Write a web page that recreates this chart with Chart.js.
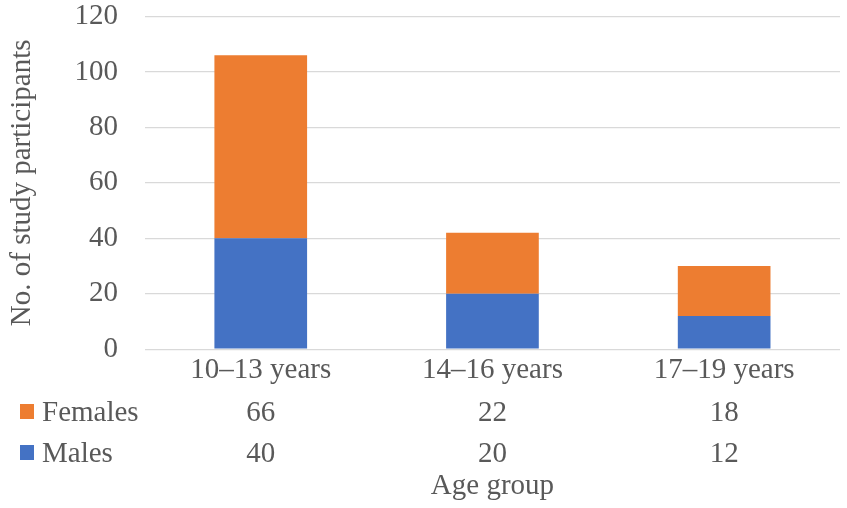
<!DOCTYPE html>
<html>
<head>
<meta charset="utf-8">
<script src="https://cdn.jsdelivr.net/npm/chart.js@4/dist/chart.umd.min.js"></script>
<style>
  html, body { margin: 0; padding: 0; background: #fff; }
  #wrap { width: 847px; height: 508px; }
</style>
</head>
<body>
<div id="wrap"><canvas id="ageChart"></canvas></div>
<script>
// Datos del grafico
const ageGroups = ['10–13 years', '14–16 years', '17–19 years'];
const males = [40, 20, 12];
const females = [66, 22, 18];
const yTicks = [0, 20, 40, 60, 80, 100, 120];

const FONT = "'Liberation Serif', 'Times New Roman', serif";
const TEXT = '#595959';
const BLUE = '#4472C4';
const ORANGE = '#ED7D31';
const SIZE = 29;

// tabla de datos debajo del eje (estilo Excel)
const dataTable = {
    id: 'dataTable',
    afterDraw(chart) {
        const c = chart.ctx;
        const x = chart.scales.x;
        const rows = [
            { name: 'Females', color: ORANGE, values: females, y: 421 },
            { name: 'Males', color: BLUE, values: males, y: 462 }
        ];
        c.save();
        c.font = SIZE + 'px ' + FONT;
        c.textBaseline = 'alphabetic';
        rows.forEach(r => {
            c.fillStyle = r.color;
            c.fillRect(20, r.y - 17, 14, 15);
            c.fillStyle = TEXT;
            c.textAlign = 'left';
            c.fillText(r.name, 42, r.y);
            c.textAlign = 'center';
            r.values.forEach((v, i) => {
                c.fillText(String(v), x.getPixelForValue(i), r.y);
            });
        });
        c.fillText('Age group', (chart.chartArea.left + chart.chartArea.right) / 2, 494);
        c.restore();
    }
};

const ctx = document.getElementById('ageChart').getContext('2d');
const ageChart = new Chart(ctx, {
    type: 'bar',
    data: {
        labels: ageGroups,
        datasets: [{
            label: 'Males',
            data: males,
            backgroundColor: BLUE,
            barPercentage: 0.8,
            categoryPercentage: 0.5
        }, {
            label: 'Females',
            data: females,
            backgroundColor: ORANGE,
            barPercentage: 0.8,
            categoryPercentage: 0.5
        }]
    },
    options: {
        responsive: true,
        maintainAspectRatio: false,
        animation: false,
        layout: { padding: { top: 0, right: 7, bottom: 116, left: 4.6 } },
        plugins: {
            legend: { display: false },
            tooltip: { enabled: false }
        },
        scales: {
            x: {
                stacked: true,
                grid: { display: false, drawTicks: false },
                border: { display: false },
                ticks: { color: TEXT, font: { family: FONT, size: SIZE }, padding: 4 }
            },
            y: {
                stacked: true,
                min: 0,
                max: 120,
                afterBuildTicks: s => { s.ticks = yTicks.map(v => ({ value: v })); },
                // marcas invisibles para separar las etiquetas de la cuadricula
                grid: { color: '#D9D9D9', lineWidth: 1.3, tickLength: 25, tickColor: 'rgba(0,0,0,0)' },
                border: { display: false },
                ticks: { color: TEXT, font: { family: FONT, size: SIZE, lineHeight: 1 }, padding: 2 },
                title: {
                    display: true,
                    text: 'No. of study participants',
                    color: TEXT,
                    font: { family: FONT, size: SIZE },
                    padding: { top: 0, bottom: 33 }
                }
            }
        }
    },
    plugins: [dataTable]
});
</script>
</body>
</html>
